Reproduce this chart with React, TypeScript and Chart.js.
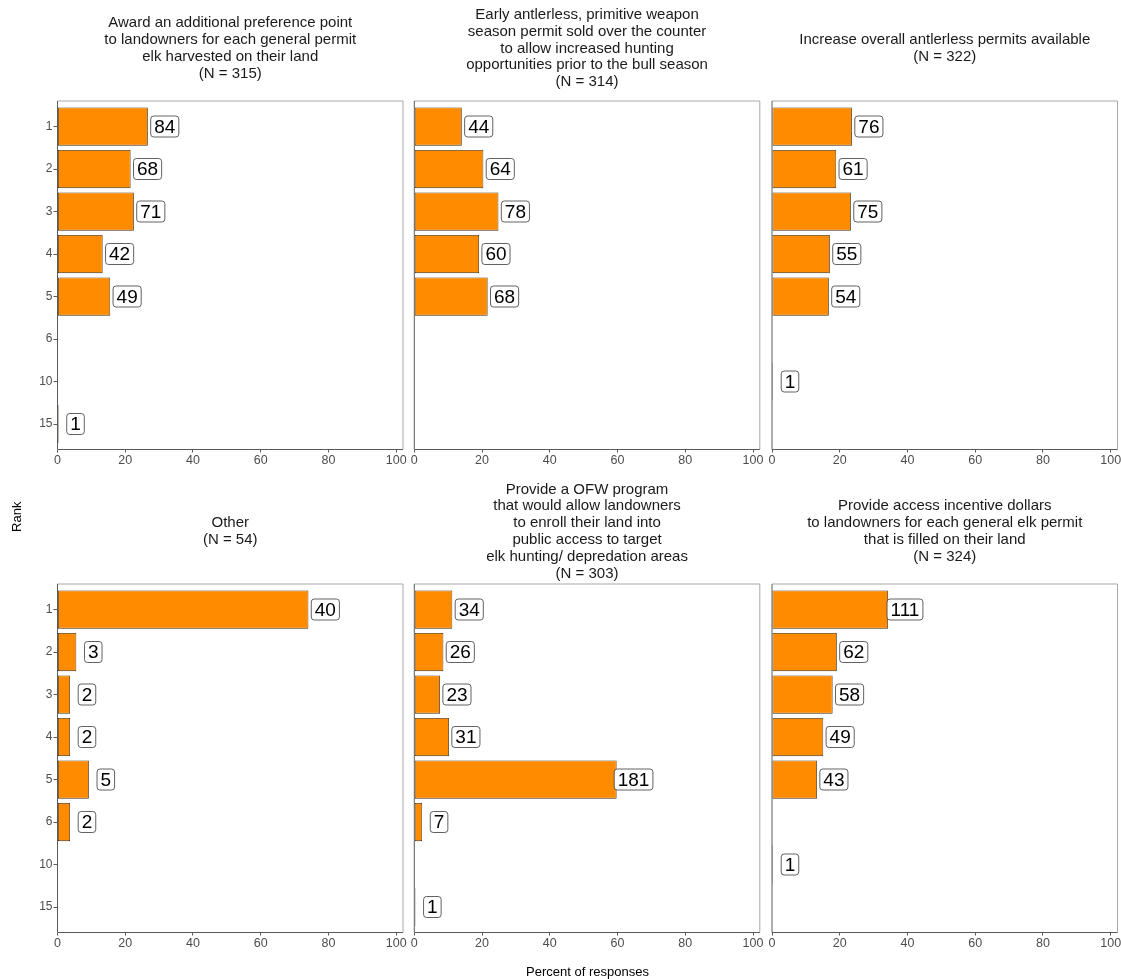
import React, { useEffect, useRef } from "react";
import { Chart, registerables } from "chart.js";

Chart.register(...registerables);

// ---------- data ----------
const RANKS = ["1", "2", "3", "4", "5", "6", "10", "15"];
const X_TICKS = [0, 20, 40, 60, 80, 100];

const TITLE_AWARD = ["Award an additional preference point", "to landowners for each general permit", "elk harvested on their land"];
const TITLE_EARLY = ["Early antlerless, primitive weapon", "season permit sold over the counter", "to allow increased hunting", "opportunities prior to the bull season"];
const TITLE_INCREASE = ["Increase overall antlerless permits available"];
const TITLE_OTHER = ["Other"];
const TITLE_OFW = ["Provide a OFW program", "that would allow landowners", "to enroll their land into", "public access to target", "elk hunting/ depredation areas"];
const TITLE_INCENTIVE = ["Provide access incentive dollars", "to landowners for each general elk permit", "that is filled on their land"];

const N_RESPONSES = [315, 314, 322, 54, 303, 324];

// counts per rank (1,2,3,4,5,6,10,15); null = no responses
const COUNTS_AWARD = [84, 68, 71, 42, 49, null, null, 1];
const COUNTS_EARLY = [44, 64, 78, 60, 68, null, null, null];
const COUNTS_INCREASE = [76, 61, 75, 55, 54, null, 1, null];
const COUNTS_OTHER = [40, 3, 2, 2, 5, 2, null, null];
const COUNTS_OFW = [34, 26, 23, 31, 181, 7, null, 1];
const COUNTS_INCENTIVE = [111, 62, 58, 49, 43, null, 1, null];

const PANEL_TITLES = [TITLE_AWARD, TITLE_EARLY, TITLE_INCREASE, TITLE_OTHER, TITLE_OFW, TITLE_INCENTIVE];
const PANEL_COUNTS = [COUNTS_AWARD, COUNTS_EARLY, COUNTS_INCREASE, COUNTS_OTHER, COUNTS_OFW, COUNTS_INCENTIVE];

const Y_AXIS_TITLE = "Rank";
const X_AXIS_TITLE = "Percent of responses";

// ---------- layout / style ----------
const W = 1121;
const H = 979;
const FONT = "'Liberation Sans', Arial, Helvetica, sans-serif";
const COL_LEFT = [57.5, 414.3, 772];
const COL_WIDTH = 345.5;
const ROW_TOP = [101, 584];
const ROW_HEIGHT = 348.5;
const Y_AXIS_W = 40;
const X_AXIS_H = 30;
const LABEL_NUDGE = 5;
const BAR_FILL = "#FF8C00";

function roundRect(ctx: CanvasRenderingContext2D, x: number, y: number, w: number, h: number, r: number) {
  ctx.beginPath();
  ctx.moveTo(x + r, y);
  ctx.lineTo(x + w - r, y);
  ctx.arcTo(x + w, y, x + w, y + r, r);
  ctx.lineTo(x + w, y + h - r);
  ctx.arcTo(x + w, y + h, x + w - r, y + h, r);
  ctx.lineTo(x + r, y + h);
  ctx.arcTo(x, y + h, x, y + h - r, r);
  ctx.lineTo(x, y + r);
  ctx.arcTo(x, y, x + r, y, r);
  ctx.closePath();
}

function makeDecor(idx: number) {
  return {
    id: "decor" + idx,
    afterDatasetsDraw(chart: any) {
      const { ctx, chartArea: a, scales } = chart;
      const xs = scales.x;
      const ys = scales.y;
      const counts = PANEL_COUNTS[idx];
      const n = N_RESPONSES[idx];
      ctx.save();
      // panel border
      ctx.lineWidth = 1;
      ctx.strokeStyle = "#a8a8a8";
      ctx.beginPath();
      ctx.moveTo(a.left, a.top);
      ctx.lineTo(a.right, a.top);
      ctx.lineTo(a.right, a.bottom);
      ctx.stroke();
      ctx.strokeStyle = "#5a5a5a";
      ctx.beginPath();
      ctx.moveTo(a.left, a.top);
      ctx.lineTo(a.left, a.bottom);
      ctx.lineTo(a.right, a.bottom);
      ctx.stroke();

      // value labels
      ctx.font = `19px ${FONT}`;
      ctx.textAlign = "center";
      ctx.textBaseline = "middle";
      counts.forEach((c, k) => {
        if (c == null) return;
        const pct = (c / n) * 100;
        const cx = xs.getPixelForValue(pct + LABEL_NUDGE);
        const cy = ys.getPixelForValue(k);
        const txt = String(c);
        const tw = ctx.measureText(txt).width;
        const bw = tw + 7;
        const bh = 21;
        roundRect(ctx, cx - bw / 2, cy - bh / 2, bw, bh, 3);
        ctx.fillStyle = "#ffffff";
        ctx.fill();
        ctx.strokeStyle = "#3a3a3a";
        ctx.lineWidth = 0.8;
        ctx.stroke();
        ctx.fillStyle = "#000000";
        ctx.fillText(txt, cx, cy + 1);
      });

      // panel title
      const lines = [...PANEL_TITLES[idx], `(N = ${n})`];
      ctx.font = `15px ${FONT}`;
      ctx.fillStyle = "#1a1a1a";
      const midY = a.top - 52.5;
      const lh = 16.8;
      const cxT = (a.left + a.right) / 2;
      lines.forEach((ln, k) => {
        ctx.fillText(ln, cxT, midY + (k - (lines.length - 1) / 2) * lh);
      });

      // global axis titles (drawn once)
      if (idx === 0) {
        ctx.font = `13px ${FONT}`;
        ctx.fillStyle = "#000000";
        ctx.fillText(X_AXIS_TITLE, (COL_LEFT[0] + COL_LEFT[2] + COL_WIDTH) / 2, 972.5);
        ctx.save();
        ctx.translate(17.5, (ROW_TOP[0] + ROW_TOP[1] + ROW_HEIGHT) / 2);
        ctx.rotate(-Math.PI / 2);
        ctx.fillText(Y_AXIS_TITLE, 0, 0);
        ctx.restore();
      }
      ctx.restore();
    },
  };
}

function Panel({ idx }: { idx: number }) {
  const ref = useRef<HTMLCanvasElement>(null);
  useEffect(() => {
    if (!ref.current) return;
    const row = Math.floor(idx / 3);
    const col = idx % 3;
    const L = COL_LEFT[col];
    const T = ROW_TOP[row];
    const n = N_RESPONSES[idx];
    const data: { x: number; y: number }[] = [];
    PANEL_COUNTS[idx].forEach((c, k) => {
      if (c != null) data.push({ x: (c / n) * 100, y: k });
    });
    const chart = new Chart(ref.current, {
      type: "bar",
      data: {
        datasets: [
          {
            data,
            backgroundColor: BAR_FILL,
            borderColor: "#3d2a10",
            borderWidth: 0.8,
            borderSkipped: false,
            barPercentage: 0.9,
            categoryPercentage: 1,
          } as any,
        ],
      },
      options: {
        indexAxis: "y",
        responsive: false,
        animation: false,
        events: [],
        layout: {
          padding: {
            left: L - Y_AXIS_W,
            top: T,
            right: W - (L + COL_WIDTH),
            bottom: H - (T + ROW_HEIGHT) - X_AXIS_H,
          },
        },
        plugins: {
          legend: { display: false },
          tooltip: { enabled: false },
          title: { display: false },
        },
        scales: {
          x: {
            type: "linear",
            min: 0,
            max: 102,
            offset: false,
            afterBuildTicks: (s: any) => {
              s.ticks = X_TICKS.map((v) => ({ value: v }));
            },
            afterFit: (s: any) => {
              s.height = X_AXIS_H;
              s.paddingLeft = 0;
              s.paddingRight = 0;
              s.paddingTop = 0;
              s.paddingBottom = 0;
            },
            grid: { drawOnChartArea: false, drawTicks: true, tickLength: 3, tickColor: "#5a5a5a", offset: false },
            border: { display: false },
            ticks: {
              color: "#4d4d4d",
              font: { family: FONT, size: 12.5 },
              padding: 1,
              maxRotation: 0,
              autoSkip: false,
              callback: (v: any) => String(v),
            },
          },
          y: {
            type: "linear",
            reverse: true,
            min: -0.6,
            max: 7.6,
            offset: false,
            bounds: "data",
            afterBuildTicks: (s: any) => {
              s.ticks = RANKS.map((_, k) => ({ value: k }));
            },
            afterFit: (s: any) => {
              s.width = Y_AXIS_W;
              s.paddingLeft = 0;
              s.paddingRight = 0;
              s.paddingTop = 0;
              s.paddingBottom = 0;
            },
            grid: { drawOnChartArea: false, drawTicks: col === 0, tickLength: 4, tickColor: "#5a5a5a", offset: false },
            border: { display: false },
            ticks: {
              display: col === 0,
              color: "#4d4d4d",
              font: { family: FONT, size: 12 },
              padding: 1,
              autoSkip: false,
              callback: (v: any) => RANKS[v] ?? "",
            },
          },
        },
      } as any,
      plugins: [makeDecor(idx)],
    });
    return () => chart.destroy();
  }, [idx]);
  return (
    <canvas
      ref={ref}
      width={W}
      height={H}
      style={{ position: "absolute", left: 0, top: 0, width: W, height: H }}
    />
  );
}

export default function App() {
  return (
    <div style={{ position: "absolute", left: 0, top: 0, width: W, height: H, background: "#ffffff", overflow: "hidden" }}>
      {PANEL_COUNTS.map((_, i) => (
        <Panel key={i} idx={i} />
      ))}
    </div>
  );
}
